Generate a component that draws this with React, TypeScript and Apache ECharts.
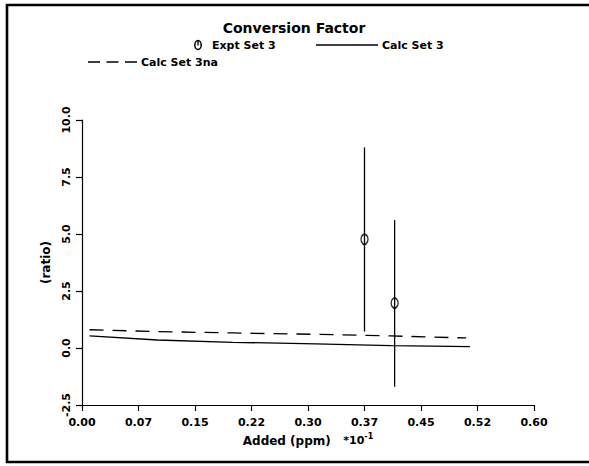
import React, { useEffect, useRef } from "react";
import * as echarts from "echarts";

const titleText = "Conversion Factor";
const xTickLabels = ["0.00", "0.07", "0.15", "0.22", "0.30", "0.37", "0.45", "0.52", "0.60"];
const yTickLabels = ["-2.5", "0.0", "2.5", "5.0", "7.5", "10.0"];

const calcSet3X = [0.01, 0.1, 0.2, 0.31, 0.41, 0.515];
const calcSet3Y = [0.53, 0.35, 0.25, 0.18, 0.1, 0.06];

const calcSet3naX = [0.01, 0.1, 0.2, 0.31, 0.41, 0.51];
const calcSet3naY = [0.8, 0.72, 0.66, 0.6, 0.53, 0.44];

const exptX = [0.375, 0.415];
const exptY = [4.77, 1.97];
const exptLow = [0.72, -1.7];
const exptHigh = [8.8, 5.61];

const FONT = "DejaVu Sans";

export default function App() {
  const ref = useRef<HTMLDivElement>(null);
  useEffect(() => {
    if (!ref.current) return;
    const chart = echarts.init(ref.current, null, { renderer: "svg" });
    const baseText = { fontFamily: FONT, fontWeight: "bold" as const, color: "#000" };
    chart.setOption({
      animation: false,
      backgroundColor: "#fff",
      grid: { left: 82, right: 55, top: 120, bottom: 61 },
      title: {
        text: titleText,
        left: 289,
        top: 16,
        textAlign: "center",
        textStyle: { ...baseText, fontSize: 14 },
      },
      xAxis: {
        type: "value",
        min: 0,
        max: 0.6,
        interval: 0.075,
        name: "Added (ppm)   {m|*10}{s|-1}",
        nameLocation: "middle",
        nameGap: 24,
        nameTextStyle: {
          ...baseText,
          fontSize: 12,
          rich: {
            m: { ...baseText, fontSize: 11 },
            s: { ...baseText, fontSize: 8, padding: [0, 0, 8, 0] },
          },
        },
        axisLine: { show: true, onZero: false, lineStyle: { color: "#000", width: 1.2 } },
        axisTick: { show: true, inside: false, length: 6, lineStyle: { color: "#000", width: 1.2 } },
        axisLabel: {
          ...baseText,
          fontSize: 11,
          margin: 12,
          formatter: (v: number) => xTickLabels[Math.round(v / 0.075)] ?? "",
        },
        splitLine: { show: false },
      },
      yAxis: {
        type: "value",
        min: -2.5,
        max: 10,
        interval: 2.5,
        name: "(ratio)",
        nameLocation: "middle",
        nameGap: 30,
        nameRotate: 90,
        nameTextStyle: { ...baseText, fontSize: 12 },
        axisLine: { show: true, onZero: false, lineStyle: { color: "#000", width: 1.2 } },
        axisTick: { show: true, inside: false, length: 6, lineStyle: { color: "#000", width: 1.2 } },
        axisLabel: {
          ...baseText,
          fontSize: 11,
          rotate: 90,
          margin: 10,
          formatter: (v: number) => yTickLabels[Math.round((v + 2.5) / 2.5)] ?? "",
        },
        splitLine: { show: false },
      },
      series: [
        {
          name: "Calc Set 3",
          type: "line",
          data: calcSet3X.map((x, i) => [x, calcSet3Y[i]]),
          symbol: "none",
          lineStyle: { color: "#000", width: 1.3, type: "solid" },
        },
        {
          name: "Calc Set 3na",
          type: "line",
          data: calcSet3naX.map((x, i) => [x, calcSet3naY[i]]),
          symbol: "none",
          lineStyle: { color: "#000", width: 1.3, type: [14, 9] },
        },
        {
          name: "Expt Set 3",
          type: "scatter",
          data: exptX.map((x, i) => [x, exptY[i]]),
          symbol: "circle",
          symbolSize: [7, 10],
          itemStyle: { color: "rgba(0,0,0,0)", borderColor: "#000", borderWidth: 1.6 },
          z: 3,
        },
        {
          name: "Expt Set 3 err",
          type: "custom",
          data: exptX.map((x, i) => [x, exptLow[i], exptHigh[i]]),
          renderItem: (params: any, api: any) => {
            const x = api.value(0);
            const lo = api.coord([x, api.value(1)]);
            const hi = api.coord([x, api.value(2)]);
            return {
              type: "line",
              shape: { x1: lo[0], y1: lo[1], x2: hi[0], y2: hi[1] },
              style: { stroke: "#000", lineWidth: 1.3 },
            };
          },
          z: 4,
        },
      ],
      graphic: [
        {
          type: "rect",
          shape: { x: 7, y: 5, width: 600, height: 457 },
          style: { fill: "none", stroke: "#000", lineWidth: 2.6 },
          silent: true,
        },
        {
          type: "ellipse",
          shape: { cx: 198, cy: 45, rx: 3.2, ry: 4.5 },
          style: { fill: "none", stroke: "#000", lineWidth: 1.5 },
        },
        {
          type: "line",
          shape: { x1: 198, y1: 40.5, x2: 198, y2: 45.5 },
          style: { stroke: "#000", lineWidth: 1.3 },
        },
        {
          type: "text",
          x: 212,
          y: 45,
          style: { text: "Expt Set 3", font: `bold 11px "${FONT}"`, fill: "#000", verticalAlign: "middle" },
        },
        {
          type: "line",
          shape: { x1: 316, y1: 45, x2: 378, y2: 45 },
          style: { stroke: "#000", lineWidth: 1.3 },
        },
        {
          type: "text",
          x: 382,
          y: 45,
          style: { text: "Calc Set 3", font: `bold 11px "${FONT}"`, fill: "#000", verticalAlign: "middle" },
        },
        {
          type: "line",
          shape: { x1: 88, y1: 62, x2: 137, y2: 62 },
          style: { stroke: "#000", lineWidth: 1.3, lineDash: [12, 6.5] },
        },
        {
          type: "text",
          x: 141,
          y: 62,
          style: { text: "Calc Set 3na", font: `bold 11px "${FONT}"`, fill: "#000", verticalAlign: "middle" },
        },
      ],
    });
    return () => chart.dispose();
  }, []);
  return (
    <div
      ref={ref}
      style={{ position: "absolute", left: 0, top: 0, width: 589, height: 466, background: "#fff" }}
    />
  );
}
